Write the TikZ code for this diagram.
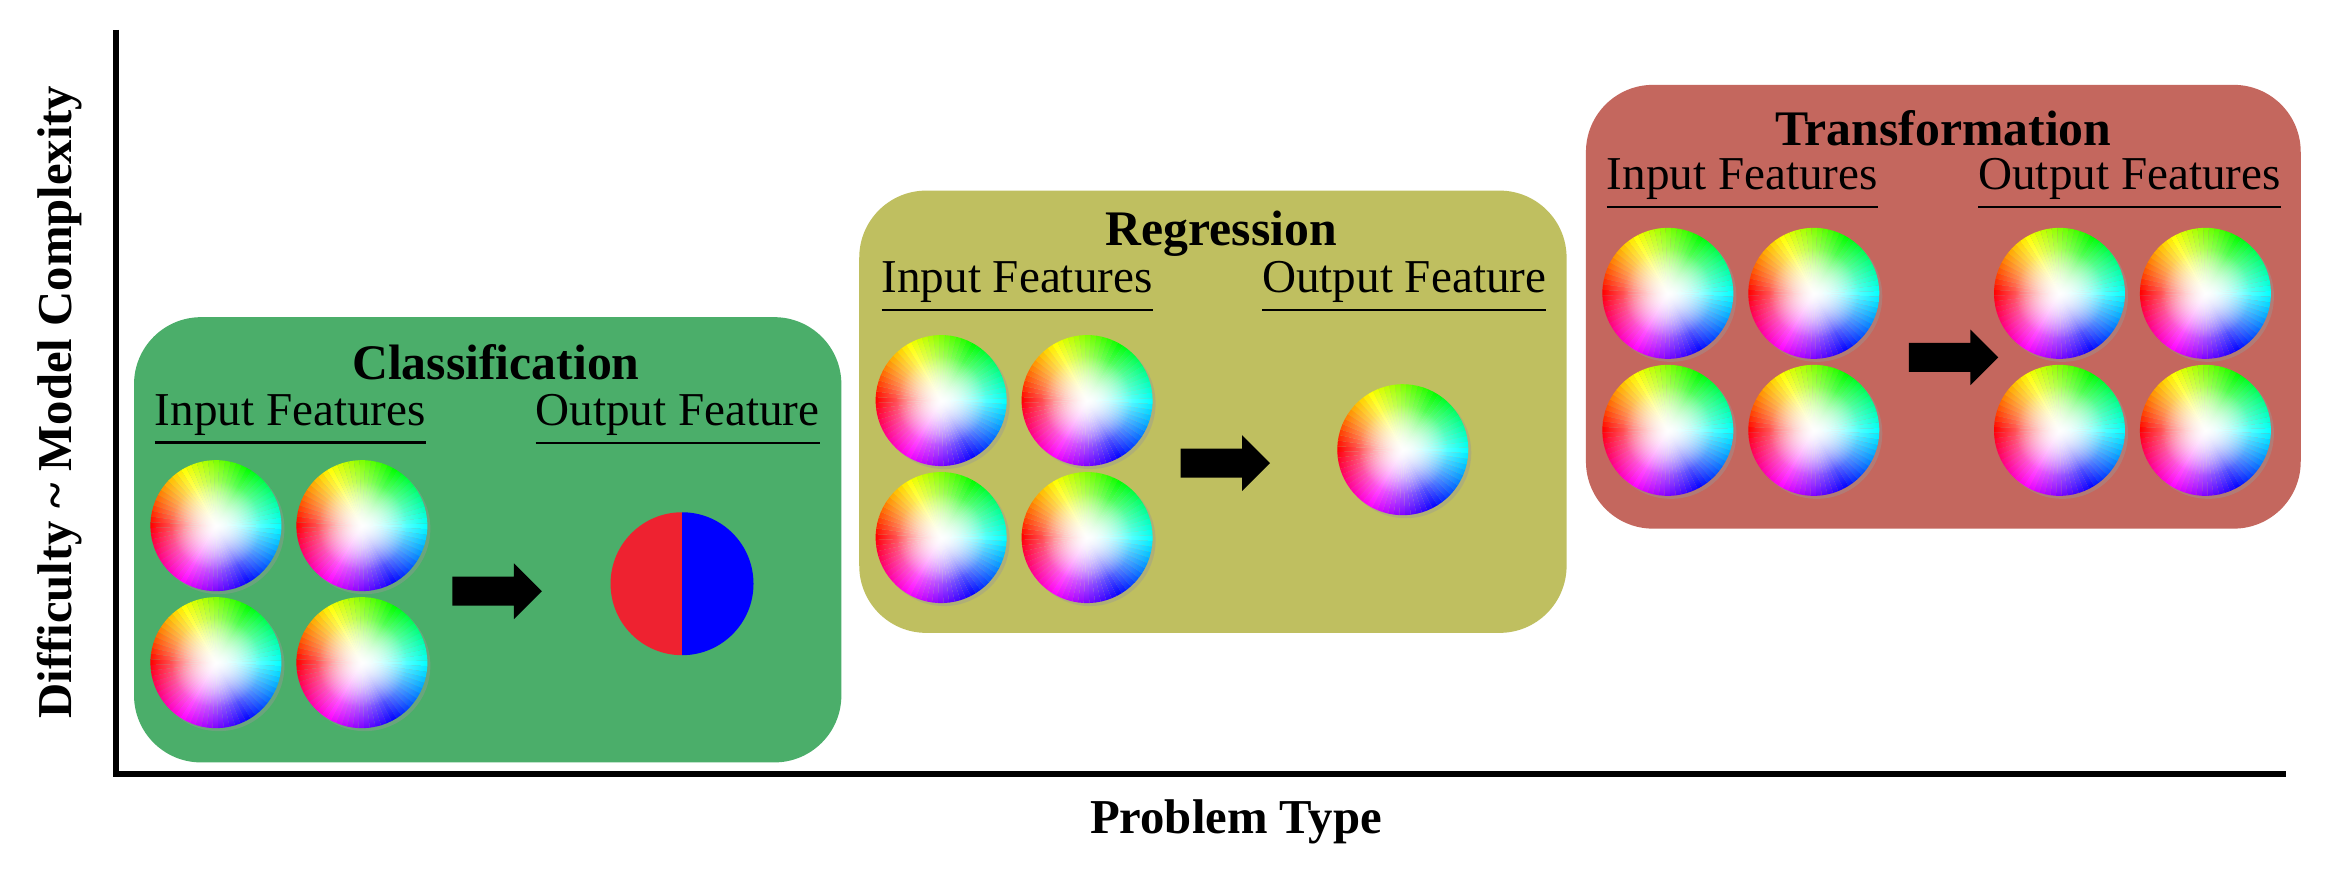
\documentclass[tikz,border=0pt]{standalone}
\usepackage{fontspec}
\setmainfont{Liberation Serif}
\usetikzlibrary{shapes.arrows,fadings,calc}

\definecolor{clsgreen}{HTML}{4BAE6A}
\definecolor{reggold}{HTML}{BFBF60}
\definecolor{trfred}{HTML}{C4675E}
\definecolor{halfred}{HTML}{EE2230}

\tikzfading[name=wheelfade, inner color=transparent!0, outer color=transparent!100]

\tikzset{
  box/.style={rounded corners=0.45cm, inner sep=0},
  title/.style={font=\fontsize{9.5}{11}\selectfont\bfseries},
  feat/.style={font=\fontsize{9}{11}\selectfont},
  axislabel/.style={font=\fontsize{9.3}{11}\selectfont\bfseries},
  wheel/.style={circle, minimum size=0.88cm, inner sep=0},
  bigarrow/.style={single arrow, fill=black, minimum height=0.6cm, inner xsep=0,
                   inner ysep=0.09cm, single arrow head extend=0.09cm, shape border rotate=0}
}

% colour wheel at (x,y) named #3
\newcommand{\colwheel}[3]{%
  \node[wheel] (#3) at (#1,#2) {};
  \fill[black!40, opacity=0.4] ($(#3)+(2,2)$) circle (44);
  \foreach \h in {0,5,...,355} {
    \definecolor{hc}{Hsb}{\h,1,1}
    \fill[hc] (#3.center) -- ++(\h-182:44) arc (\h-182:\h-177:44) -- cycle;
  }
  \fill[white, path fading=wheelfade] (#3.center) circle (44);
  \fill[white, path fading=wheelfade, opacity=0.7] (#3.center) circle (30);
}

\begin{document}
\begin{tikzpicture}[x=0.01cm, y=-0.01cm]
  \fill[white] (0,0) rectangle (1568,592);

  % axes
  \coordinate (origin) at (78,520);
  \coordinate (ytop) at (78,20);
  \coordinate (xend) at (1535,520);
  \draw[line width=1.2pt] (ytop) -- (origin) -- (xend);
  \node[axislabel, rotate=90] (ylabel) at (40,270) {Difficulty \textasciitilde{} Model Complexity};
  \node[axislabel] (xlabel) at (830,552) {Problem Type};

  % classification
  \fill[box, clsgreen] (90,213) rectangle (565,512);
  \node[title] (clstitle) at (333,243) {Classification};
  \node[feat] (clsin) at (195,282) {\underline{Input Features}};
  \node[feat] (clsout) at (455,282) {\underline{Output Feature}};
  \colwheel{145}{353}{c1}
  \colwheel{243}{353}{c2}
  \colwheel{145}{445}{c3}
  \colwheel{243}{445}{c4}
  \node[bigarrow] (clsarrow) at (329,397) {};
  \node[circle, minimum size=0.96cm, inner sep=0] (half) at (458,392) {};
  \fill[halfred] ($(half)+(0,-48)$) arc[start angle=-90, end angle=-270, radius=48] -- cycle;
  \fill[blue] ($(half)+(0,-48)$) arc[start angle=-90, end angle=90, radius=48] -- cycle;

  % regression
  \fill[box, reggold] (577,128) rectangle (1052,425);
  \node[title] (regtitle) at (820,157) {Regression};
  \node[feat] (regin) at (683,193) {\underline{Input Features}};
  \node[feat] (regout) at (943,193) {\underline{Output Feature}};
  \colwheel{632}{269}{r1}
  \colwheel{730}{269}{r2}
  \colwheel{632}{361}{r3}
  \colwheel{730}{361}{r4}
  \node[bigarrow] (regarrow) at (818,311) {};
  \colwheel{942}{302}{r5}

  % transformation
  \fill[box, trfred] (1065,57) rectangle (1545,355);
  \node[title] (trftitle) at (1305,86) {Transformation};
  \node[feat] (trfin) at (1170,124) {\underline{Input Features}};
  \node[feat] (trfout) at (1430,124) {\underline{Output Features}};
  \colwheel{1120}{197}{t1}
  \colwheel{1218}{197}{t2}
  \colwheel{1120}{289}{t3}
  \colwheel{1218}{289}{t4}
  \node[bigarrow] (trfarrow) at (1307,240) {};
  \colwheel{1383}{197}{t5}
  \colwheel{1481}{197}{t6}
  \colwheel{1383}{289}{t7}
  \colwheel{1481}{289}{t8}
\end{tikzpicture}
\end{document}
